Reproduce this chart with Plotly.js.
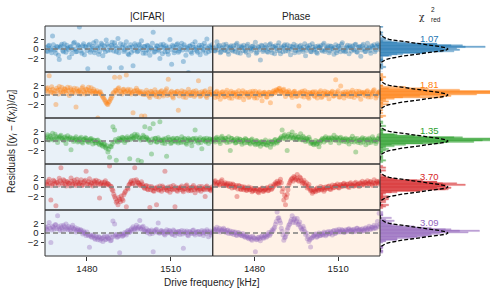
<!DOCTYPE html>
<html><head><meta charset="utf-8">
<script src="https://cdn.plot.ly/plotly-3.0.1.min.js"></script>
<style>html,body{margin:0;padding:0;background:#fff}#chart{width:502px;height:300px}</style>
</head><body><div id="chart"></div>
<script>
const colors = ['#1f77b4','#ff7f0e','#2ca02c','#d62728','#9467bd'];
const chi2Labels = ['1.07','1.81','1.35','3.70','3.09'];
const columnTitles = ['|CIFAR|','Phase'];
const xTickVals = [1480,1510];
const yTickVals = [-2,0,2];
const yTickText = ['−2','0','2'];
const freqStartA = 1465.3, freqStartB = 1465.6, freqStep = 0.6, nPoints = 100;

const cifar1 = [
0.3,-0.5,0.8,-0.2,2.7,0.1,-0.9,0.4,-2.2,0.6,
-0.3,1.1,-0.7,0.2,-1.8,0.5,-0.1,1.4,-0.6,0.9,
4.6,-0.4,0.7,-1.2,0.3,-4.1,1.0,-0.2,0.5,-0.8,
1.6,0.2,-0.5,1.2,-1.4,0.6,1.9,-0.3,-3.9,0.8,
0.4,1.3,-0.6,2.2,0.1,-3.9,0.9,-0.2,1.5,-1.0,
0.3,-0.7,-3.5,1.1,0.2,-0.4,0.8,1.7,-0.9,0.5,
-0.2,0.6,-1.3,0.1,3.5,-0.5,0.7,-0.1,-2.0,0.4,
1.0,-0.6,0.2,-1.1,2.0,-3.2,0.5,-0.3,0.9,-0.7,
0.1,1.2,-2.6,0.4,-0.2,-4.9,0.6,-0.9,0.3,1.5,
-0.4,0.2,-1.2,0.8,-0.1,0.5,2.1,-0.6,0.3,0.9];
const cifar1b = [
-0.4,0.6,0.1,-0.8,0.9,-0.2,0.5,-1.3,0.3,1.0,
-0.6,0.2,0.8,-0.1,0.4,-1.0,1.2,0.0,-0.5,0.7,
0.3,-0.9,1.1,0.5,-0.3,0.8,-0.7,0.2,1.3,-0.2,
0.6,-1.1,0.4,0.9,0.0,-0.6,1.0,0.5,-0.2,1.4,
-0.4,0.7,0.2,-0.8,1.1,0.3,-0.5,0.6,0.1,-1.2,
0.9,0.4,-0.3,0.7,-0.6,1.0,0.2,-0.1,0.5,-0.9,
0.8,-0.3,0.3,1.2,-0.7,0.1,0.6,-0.4,0.9,-1.0,
0.2,0.7,-0.5,0.4,-0.1,0.8,-0.8,0.3,1.1,-0.4,
0.5,-0.2,0.9,-1.3,0.2,0.6,-0.6,1.0,-0.1,0.4,
-0.7,0.8,0.3,-0.4,1.2,-0.9,0.1,0.6,-0.3,0.2];
const phase1 = [
0.2,-0.4,1.5,0.6,-0.8,0.1,0.9,-0.3,0.5,-1.1,
0.4,-0.2,0.7,-0.6,1.2,0.0,-0.9,0.3,0.8,-0.4,
0.6,-1.3,0.2,0.5,-0.1,1.4,-0.7,0.3,-2.3,0.6,
-0.2,0.9,-0.5,0.1,1.1,-0.8,0.4,0.7,-0.3,1.3,
-1.0,0.2,0.6,-0.4,0.9,0.0,-1.2,0.5,1.0,-0.3,
0.3,-0.7,0.8,-0.1,0.4,-1.4,0.6,0.2,-0.5,1.1,
-0.2,0.5,-0.9,0.3,0.7,-0.4,1.2,-0.1,0.4,-0.8,
0.6,0.1,-1.1,0.9,-0.3,0.5,-0.6,1.3,0.2,-0.4,
0.8,-1.0,0.3,0.6,-0.2,1.0,-0.7,0.4,-1.5,0.7,
0.1,-0.5,1.2,0.3,-0.9,0.5,0.9,-0.2,1.1,0.4];
const phase1b = [
-0.3,0.5,-0.1,0.8,-0.6,0.3,-0.2,1.0,-0.5,0.2,
0.7,-0.4,0.1,0.9,-0.8,0.4,0.6,-0.3,0.2,-0.7,
1.0,0.0,-0.4,0.6,0.3,-0.9,0.5,-0.1,0.8,-0.5,
0.2,0.4,-0.7,0.9,-0.2,0.5,-1.0,0.1,0.7,-0.3,
0.4,-0.6,0.9,0.2,-0.4,0.6,-0.1,0.3,-0.8,0.7,
-0.2,0.5,0.1,-0.5,1.1,-0.3,0.2,0.8,-0.6,0.4,
0.0,-0.7,0.6,0.3,-0.2,0.9,-0.5,0.2,0.7,-0.4,
0.5,-0.1,0.3,-0.8,0.6,0.1,1.0,-0.3,-0.6,0.4,
0.2,0.7,-0.4,0.0,0.9,-0.6,0.3,0.5,-0.2,1.0,
-0.5,0.4,0.1,-0.3,0.7,0.2,-0.6,0.5,0.8,-0.1];
const cifar2 = [
0.9,1.5,4.0,0.6,1.2,0.3,-2.0,1.0,1.8,0.7,
0.4,1.3,0.9,1.6,-0.1,1.1,0.5,1.4,-2.5,0.8,
1.0,0.2,1.7,0.6,1.2,0.4,0.9,1.5,0.3,0.8,
0.5,-4.8,0.6,0.2,-0.4,-1.0,-1.6,-2.0,-1.3,-0.6,
0.3,3.7,0.9,1.3,3.7,0.5,1.1,0.7,4.2,1.2,
0.6,0.2,-3.7,0.9,1.4,0.4,0.8,-4.4,0.1,-4.4,
1.0,0.3,-0.5,0.7,0.2,1.1,-0.3,0.6,0.4,0.9,
-0.2,0.5,1.3,3.3,0.1,0.8,-0.6,0.4,0.7,-3.2,
0.3,0.9,-0.4,0.6,0.2,1.2,-0.1,0.5,0.8,0.0,
0.4,3.0,-0.3,0.7,0.2,0.9,-0.5,0.6,1.3,0.1];
const cifar2b = [
1.3,0.6,1.0,1.7,0.4,0.9,1.4,0.2,1.1,1.6,
0.7,1.2,0.3,0.9,1.5,0.6,1.0,0.4,1.3,0.8,
0.5,1.4,0.9,0.2,1.1,1.6,0.6,0.8,1.2,0.4,
0.9,0.3,0.7,-0.1,-0.7,-1.3,-1.9,-1.5,-0.9,-0.2,
0.6,1.0,0.4,1.5,0.8,0.2,1.2,0.6,0.9,0.3,
1.1,0.5,0.8,0.2,1.0,0.6,0.3,0.7,0.4,0.1,
0.5,-0.2,0.8,0.3,0.0,0.6,0.2,-0.4,0.7,0.1,
0.4,0.9,-0.1,0.3,0.6,-0.3,0.5,0.2,0.8,-0.2,
0.4,0.1,0.7,-0.5,0.3,0.6,0.0,0.4,-0.3,0.9,
0.2,0.5,-0.1,0.3,0.7,-0.2,0.4,0.1,0.6,0.3];
const phase2 = [
0.3,-0.5,0.8,0.1,-0.9,0.6,0.2,-0.3,1.0,-0.1,
0.4,-0.7,0.5,0.2,-0.4,0.9,-0.2,0.3,-1.0,0.6,
0.1,-0.5,0.7,0.3,-0.2,0.8,-0.6,0.4,0.0,-1.2,
0.5,0.2,-0.4,0.6,-1.6,0.3,0.9,0.5,1.0,1.3,
0.8,0.4,1.2,-0.3,0.6,0.9,0.1,-0.5,0.7,0.3,
-0.2,-2.3,0.4,0.8,-0.4,0.2,0.6,-0.7,0.3,0.5,
-0.1,0.7,-0.6,0.2,0.9,-0.3,0.4,0.0,0.6,-0.8,
0.3,0.8,-0.2,3.2,0.5,-0.4,1.9,0.1,-0.6,0.7,
0.2,-0.3,0.5,1.0,-0.5,0.3,0.0,0.8,-0.9,0.4,
0.6,-0.2,0.9,0.1,-0.4,0.5,1.1,-0.6,0.3,0.7];
const phase2b = [
0.2,0.6,-0.3,0.4,0.0,0.7,-0.4,0.5,0.1,-0.6,
0.8,0.3,-0.1,0.6,0.2,-0.5,0.4,0.9,-0.2,0.3,
0.5,-0.3,0.2,0.8,-0.6,0.4,0.1,0.7,-0.2,0.3,
0.6,-0.4,0.2,0.5,0.0,0.7,0.4,1.1,0.8,1.4,
0.6,1.0,0.3,0.7,0.2,0.5,-0.1,0.4,0.8,-0.3,
0.3,0.6,-0.2,0.4,0.9,0.1,-0.4,0.5,0.2,0.7,
-0.3,0.4,0.1,0.6,-0.5,0.3,0.8,0.0,0.4,0.2,
0.6,-0.2,0.5,0.1,0.9,-0.4,0.3,0.6,0.2,-0.1,
0.7,0.3,-0.3,0.5,0.1,0.8,-0.2,0.4,0.6,0.0,
0.3,0.7,-0.4,0.5,0.2,0.9,0.1,-0.2,0.6,0.4];
const cifar3 = [
0.6,1.3,0.2,0.9,1.6,0.4,1.0,-0.3,0.8,1.2,
0.3,0.7,-0.5,1.1,0.5,-1.8,0.6,0.2,0.9,-0.2,
0.4,0.8,-0.4,0.3,0.6,-0.1,0.2,0.5,-0.6,0.1,
-0.3,0.2,-0.8,-0.4,-1.1,-0.7,-1.5,-2.3,-3.4,-1.2,
3.0,2.3,-4.0,-0.2,0.4,0.1,0.7,-0.3,0.6,0.2,
-3.7,0.9,0.5,1.4,1.0,-4.0,0.6,-4.3,1.2,3.0,
0.8,0.3,2.6,-2.7,3.6,0.5,-0.2,0.7,4.0,0.1,
0.4,-0.5,-3.2,0.8,0.2,-0.3,0.6,0.0,0.5,-0.4,
0.3,0.9,-0.2,0.4,-0.7,0.6,0.1,-1.0,0.5,2.3,
0.2,-0.4,0.7,-1.6,0.3,0.0,0.6,-0.5,0.4,0.2];
const cifar3b = [
0.9,0.3,1.1,0.5,0.2,1.4,0.7,0.4,1.0,0.6,
0.1,0.9,0.5,0.3,0.8,0.4,-0.1,0.6,0.3,0.0,
0.5,-0.2,0.3,0.7,0.1,-0.3,0.4,0.0,0.2,-0.4,
0.1,-0.5,-0.2,-0.9,-0.6,-1.3,-1.0,-1.7,-1.1,-0.6,
-0.2,0.3,0.0,0.6,0.2,0.8,0.4,0.1,0.9,0.5,
0.3,1.1,0.7,0.4,1.3,0.8,0.2,0.6,0.9,0.3,
0.5,0.1,-0.3,0.4,0.0,0.6,-0.2,0.3,0.1,-0.4,
0.2,0.5,-0.1,0.3,-0.5,0.4,0.1,-0.2,0.6,0.0,
-0.3,0.2,0.5,-0.4,0.1,0.3,-0.2,0.4,-0.1,0.6,
0.0,0.3,-0.3,0.2,0.5,-0.2,0.1,0.4,-0.1,0.3];
const phase3 = [
0.4,-0.2,0.8,0.3,-0.5,1.0,0.2,0.6,-0.3,0.9,
-2.0,0.5,0.1,-0.4,0.6,-0.1,0.3,-0.7,0.2,0.5,
-0.3,0.1,-0.6,0.4,-0.2,-0.8,0.0,-0.5,-1.1,-0.2,
-0.6,0.2,-0.9,-0.3,-1.3,-0.1,-0.7,0.3,-0.4,0.1,
0.6,2.3,1.1,0.4,-2.0,1.4,0.8,1.9,0.5,1.2,
0.3,0.9,1.5,0.2,0.7,-0.1,0.4,0.8,-0.5,-0.2,
-0.8,0.1,-0.5,-1.2,0.0,0.5,-0.2,0.9,0.3,0.7,
-0.3,0.6,1.2,0.1,0.5,-0.4,0.8,0.2,-0.1,0.6,
0.3,-0.6,0.4,1.0,-0.2,-2.3,0.5,0.1,-0.4,0.7,
0.2,-0.8,0.3,0.6,-0.3,0.9,0.0,-0.5,0.4,1.1];
const phase3b = [
0.1,0.6,0.3,-0.1,0.7,0.4,0.0,0.5,0.2,-0.2,
0.6,0.0,0.3,-0.3,0.2,0.4,-0.2,0.1,-0.4,0.3,
0.0,-0.4,0.2,-0.2,-0.5,0.1,-0.7,-0.3,-0.1,-0.6,
-0.2,-0.8,-0.4,0.0,-0.6,-0.3,0.2,-0.2,0.0,0.4,
0.9,0.6,1.3,0.8,1.0,0.5,1.2,0.7,0.9,0.4,
0.8,0.3,0.6,1.0,0.2,0.5,0.0,0.3,-0.3,-0.6,
-0.3,-0.7,-0.1,-0.4,0.2,0.3,0.6,0.1,0.5,0.2,
0.7,0.3,0.4,0.8,0.2,0.6,0.0,0.4,0.3,-0.2,
0.1,0.4,-0.1,0.3,0.5,0.0,-0.3,0.2,0.4,-0.2,
0.5,0.1,-0.4,0.3,0.0,0.4,0.2,-0.1,0.6,0.3];
const cifar4 = [
1.0,0.4,1.6,-2.7,0.7,1.2,-3.9,0.9,1.8,4.0,
0.6,1.3,0.2,1.1,0.8,1.9,0.5,1.4,0.3,1.0,
0.7,1.5,0.4,1.2,3.3,0.6,1.7,0.9,0.2,1.1,
1.4,0.5,-2.3,0.8,0.3,1.0,0.4,0.7,4.4,0.1,
-0.8,-2.0,-3.2,-3.7,-2.6,-1.9,-2.8,-1.2,-4.1,-0.4,
0.6,1.3,0.8,4.0,1.5,0.9,0.4,1.1,0.2,-0.3,
0.3,-0.6,-4.3,0.1,-0.8,-0.2,-3.7,-0.5,0.2,-0.9,
-0.1,3.3,-0.6,0.0,-1.1,-0.4,0.3,-4.1,-0.7,-0.2,
-0.5,0.2,-1.0,-0.3,0.4,-0.8,-0.1,-0.6,0.3,-1.2,
-0.2,-0.7,-0.4,0.1,-0.4,-2.0,0.2,-0.3,-0.6,0.0];
const cifar4b = [
0.6,1.2,0.8,0.3,1.4,0.7,1.0,0.4,1.3,0.9,
1.5,0.5,1.1,0.8,0.2,1.2,0.9,0.6,1.6,0.7,
1.0,0.3,0.9,1.4,0.6,1.1,0.4,0.8,1.3,0.5,
0.9,1.2,0.6,1.0,0.4,1.3,0.8,0.5,0.2,-0.5,
-1.5,-2.4,-2.9,-2.2,-3.1,-2.5,-1.6,-0.9,-0.2,0.4,
1.0,0.7,1.4,0.5,1.1,0.8,0.3,0.6,-0.1,0.2,
-0.4,0.1,-0.6,-0.2,-0.9,-0.3,0.0,-0.7,-0.4,0.2,
-0.5,-0.2,-0.8,-0.3,0.1,-0.6,-0.4,0.0,-0.9,-0.2,
-0.1,-0.7,-0.4,0.2,-0.5,-0.3,-0.8,0.0,-0.6,-0.2,
-0.4,0.1,-0.9,-0.3,-0.6,0.0,-0.5,-0.2,-0.8,-0.4];
const phase4 = [
0.8,1.3,0.4,1.0,0.6,1.5,0.3,0.9,0.5,0.2,
0.7,-0.2,0.4,0.0,-2.0,0.3,-0.4,0.1,-0.6,-0.2,
-0.7,0.0,-0.5,-1.0,-0.3,-0.8,-0.4,-1.2,-0.6,-0.2,
-0.9,-0.5,-0.1,-0.7,0.2,-0.3,0.5,0.9,1.2,0.6,
1.6,-1.0,-2.7,-3.7,-1.5,0.4,1.3,1.8,2.2,1.5,
2.6,1.2,1.9,0.8,1.4,0.3,-0.2,0.5,-0.8,-1.3,
-0.5,-1.0,-0.2,-0.7,0.1,-0.4,-0.9,0.0,-0.3,0.2,
-0.5,0.4,-0.1,0.3,0.6,-0.2,0.5,0.1,0.8,0.2,
0.6,-0.1,0.9,0.4,0.2,1.0,0.5,0.1,0.8,1.2,
0.4,0.9,1.3,0.6,1.1,0.3,1.5,0.8,1.0,1.2];
const phase4b = [
1.1,0.5,0.9,0.4,1.2,0.7,0.6,0.3,0.8,0.1,
0.4,0.6,-0.1,0.3,-0.4,0.2,-0.5,-0.2,0.0,-0.7,
-0.3,-0.6,-0.2,-0.8,-0.5,-0.3,-1.0,-0.7,-0.4,-0.9,
-0.6,-0.3,-0.8,-0.2,-0.5,0.0,0.3,0.6,0.8,1.1,
0.9,-0.3,-1.8,-2.2,-0.6,0.9,1.6,1.2,2.0,1.7,
1.4,2.1,1.3,1.0,0.6,0.9,0.1,-0.4,-0.6,-1.0,
-0.8,-0.4,-0.7,-0.3,-0.6,-0.1,-0.5,-0.2,0.1,-0.4,
0.0,-0.2,0.3,0.1,-0.1,0.4,0.2,0.6,0.3,0.5,
0.1,0.7,0.4,0.2,0.8,0.3,0.6,0.9,0.4,0.7,
1.0,0.5,0.8,1.1,0.6,0.9,0.7,1.2,0.6,0.9];
const cifar5 = [
1.2,0.5,2.2,-2.0,1.4,0.8,1.7,3.6,0.9,1.5,
0.6,1.3,1.9,0.7,1.1,0.4,1.6,0.8,0.2,0.9,
0.3,0.6,-0.2,0.1,-0.5,-0.3,-3.0,-0.8,-0.4,-1.1,
-0.7,-1.4,-0.9,-1.2,-1.8,-0.6,-1.3,-1.0,-0.5,-1.5,
2.5,1.9,-0.3,-0.8,-4.1,-0.2,-0.6,0.1,-0.4,0.5,
0.2,0.9,1.3,0.7,1.6,1.1,2.6,0.8,1.4,0.3,
0.9,0.4,-0.2,0.6,-3.9,0.2,0.8,2.1,0.0,0.5,
0.3,-0.4,0.7,0.1,0.4,-0.2,0.6,-0.5,0.2,0.3,
-0.3,0.5,-3.2,0.0,0.4,-0.6,0.2,-0.1,0.6,-0.4,
0.1,0.3,-0.2,0.5,-0.5,0.2,0.7,-0.8,0.4,0.0];
const cifar5b = [
0.8,1.4,1.0,0.6,1.2,1.7,0.9,1.3,0.5,1.1,
1.6,0.8,1.0,1.4,0.7,1.2,0.9,1.1,0.5,0.6,
0.7,0.2,0.4,-0.1,0.2,-0.6,-0.4,-0.9,-0.6,-1.3,
-1.0,-0.8,-1.5,-1.1,-0.9,-1.4,-0.8,-1.2,-1.6,-0.9,
-0.7,-0.4,-0.9,-0.5,-0.2,-0.7,-0.3,-0.1,0.3,0.1,
0.6,0.4,0.9,1.1,0.8,1.3,0.9,1.2,0.6,0.4,
0.1,0.5,0.3,-0.1,0.4,0.6,0.2,0.0,0.4,0.1,
-0.2,0.3,0.0,0.5,0.2,-0.3,0.4,0.1,-0.1,0.3,
0.2,-0.2,0.4,0.1,-0.4,0.3,0.0,0.5,-0.1,0.2,
0.3,-0.3,0.2,0.0,0.4,-0.1,0.3,0.1,-0.4,0.2];
const phase5 = [
0.9,0.4,1.2,0.6,0.2,0.8,1.0,0.3,0.5,-0.1,
0.4,0.0,-0.3,0.2,-0.5,0.1,-0.2,-0.6,-0.4,-0.9,
-0.7,-1.2,-0.8,-1.5,-1.0,-3.9,-1.3,-0.9,-1.6,-0.6,
-1.1,-0.4,-0.7,0.1,-0.2,0.6,0.9,1.8,4.4,3.2,
2.1,0.3,-1.5,-0.8,0.7,1.6,2.4,3.6,2.8,2.2,
3.0,1.9,1.2,0.6,0.9,-0.3,-1.2,-1.8,-2.9,-1.0,
-0.6,-0.2,-0.8,0.0,-0.5,-0.3,0.2,-0.6,0.1,-0.2,
0.3,-0.4,0.5,0.0,0.4,0.8,0.2,0.6,0.1,0.7,
0.3,0.9,0.5,0.2,0.8,0.4,1.0,0.6,0.3,0.9,
0.5,1.1,0.7,1.4,0.8,1.2,1.6,1.0,2.4,4.1];
const phase5b = [
0.6,0.8,0.3,1.0,0.5,0.4,0.7,0.1,0.6,0.2,
-0.1,0.3,0.1,-0.4,0.0,-0.3,-0.5,-0.1,-0.8,-0.5,
-1.0,-0.9,-1.3,-0.7,-1.1,-1.4,-1.0,-1.2,-0.8,-1.0,
-0.7,-0.9,-0.3,-0.5,0.2,0.4,1.2,2.4,3.1,2.6,
1.0,-0.4,-1.0,-0.2,1.1,1.9,2.8,2.2,3.1,2.5,
1.7,2.3,0.9,1.4,0.3,0.0,-0.8,-1.4,-1.1,-0.7,
-0.3,-0.9,-0.4,-0.6,-0.1,-0.4,0.0,-0.3,0.3,-0.1,
0.1,0.4,-0.1,0.6,0.2,0.3,0.7,0.4,0.2,0.5,
0.8,0.4,0.7,0.6,0.3,1.0,0.5,0.8,0.7,0.4,
0.9,0.6,1.0,0.8,1.2,0.9,1.1,1.5,1.3,1.8];

const gaussZ = [-4,-3.75,-3.5,-3.25,-3,-2.75,-2.5,-2.25,-2,-1.75,-1.5,-1.25,-1,-0.75,-0.5,-0.25,0,
0.25,0.5,0.75,1,1.25,1.5,1.75,2,2.25,2.5,2.75,3,3.25,3.5,3.75,4];
const gaussPdf = [0.0001,0.0004,0.0009,0.0020,0.0044,0.0091,0.0175,0.0317,0.0540,0.0863,0.1295,0.1826,0.2420,0.3011,0.3521,0.3867,0.3989,
0.3867,0.3521,0.3011,0.2420,0.1826,0.1295,0.0863,0.0540,0.0317,0.0175,0.0091,0.0044,0.0020,0.0009,0.0004,0.0001];

const cifarRows = [cifar1.concat(cifar1b), cifar2.concat(cifar2b), cifar3.concat(cifar3b), cifar4.concat(cifar4b), cifar5.concat(cifar5b)];
const phaseRows = [phase1.concat(phase1b), phase2.concat(phase2b), phase3.concat(phase3b), phase4.concat(phase4b), phase5.concat(phase5b)];
const freqA = Array.from({length:nPoints},(_,i)=>+(freqStartA+i*freqStep).toFixed(2));
const freqB = Array.from({length:nPoints},(_,i)=>+(freqStartB+i*freqStep).toFixed(2));
const freq = freqA.concat(freqB);

const c1 = 0.3769, c2 = 0.7528;
const FONT = 'Liberation Sans, Arial, sans-serif';
const traces = [];
const shapes = [];
const annotations = [];
const axBase = {ticks:'outside', ticklen:3.5, tickwidth:1, tickcolor:'#333', showgrid:false, zeroline:false, showline:false, tickfont:{size:9.5,color:'#222'}};
const layout = {
  width:502, height:300,
  margin:{l:45,r:12,t:26,b:44},
  paper_bgcolor:'#ffffff', plot_bgcolor:'rgba(0,0,0,0)',
  showlegend:false, barmode:'overlay', bargap:0,
  font:{family:FONT, size:10, color:'#222'},
  xaxis:Object.assign({domain:[0,c1], range:[1465,1525], anchor:'y5', tickvals:xTickVals}, axBase),
  xaxis2:Object.assign({domain:[c1,c2], range:[1465,1525], anchor:'y5', tickvals:xTickVals}, axBase),
  xaxis3:{domain:[c2,1], range:[0,0.645], anchor:'y5', visible:false}
};

for (let r=0;r<5;r++){
  const yn = r===0 ? 'y' : 'y'+(r+1);
  const yk = r===0 ? 'yaxis' : 'yaxis'+(r+1);
  const top = 1 - r*0.2, bot = 1 - (r+1)*0.2;
  layout[yk] = Object.assign({domain:[bot,top], range:[-4.8,4.8], anchor:'x', tickvals:yTickVals, ticktext:yTickText}, axBase);
  const col = colors[r];
  traces.push({type:'scatter', mode:'markers', x:freq, y:cifarRows[r], xaxis:'x', yaxis:yn,
    marker:{color:col, size:5, opacity:0.36, line:{width:0}}, cliponaxis:true});
  traces.push({type:'scatter', mode:'markers', x:freq, y:phaseRows[r], xaxis:'x2', yaxis:yn,
    marker:{color:col, size:5, opacity:0.36, line:{width:0}}, cliponaxis:true});
  [cifarRows[r], phaseRows[r]].forEach(arr=>{
    traces.push({type:'histogram', orientation:'h', y:arr, xaxis:'x3', yaxis:yn,
      histnorm:'probability density', ybins:{start:-5.1,end:5.1,size:0.3},
      marker:{color:col, line:{color:col, width:0.4}}, opacity:0.62});
  });
  traces.push({type:'scatter', mode:'lines', x:gaussPdf, y:gaussZ, xaxis:'x3', yaxis:yn,
    line:{color:'#000', width:1.3, dash:'4px,2px'}});
  shapes.push({type:'line', xref:'paper', yref:yn, x0:0, x1:c2, y0:0, y1:0,
    line:{color:'#7f7f7f', width:1.6, dash:'5px,3px'}, layer:'above'});
  shapes.push({type:'rect', xref:'paper', yref:'paper', x0:0, x1:c1, y0:bot, y1:top,
    line:{color:'#333', width:1}, fillcolor:'rgba(0,0,0,0)', layer:'above'});
  shapes.push({type:'rect', xref:'paper', yref:'paper', x0:c1, x1:c2, y0:bot, y1:top,
    line:{color:'#333', width:1}, fillcolor:'rgba(0,0,0,0)', layer:'above'});
  annotations.push({xref:'x3', yref:yn, x:0.293, y:2.1, text:chi2Labels[r], showarrow:false,
    font:{family:FONT, size:9.5, color:col}, xanchor:'center', yanchor:'middle'});
}
shapes.unshift({type:'rect', xref:'paper', yref:'paper', x0:c1, x1:c2, y0:0, y1:1, fillcolor:'#fff2e7', line:{width:0}, layer:'below'});
shapes.unshift({type:'rect', xref:'paper', yref:'paper', x0:0, x1:c1, y0:0, y1:1, fillcolor:'#e9f1f8', line:{width:0}, layer:'below'});

annotations.push({xref:'paper', yref:'paper', x:0.1876, y:1.043, text:columnTitles[0], showarrow:false, font:{family:FONT,size:10,color:'#222'}, yanchor:'middle'});
annotations.push({xref:'paper', yref:'paper', x:0.5656, y:1.043, text:columnTitles[1], showarrow:false, font:{family:FONT,size:10,color:'#222'}, yanchor:'middle'});
annotations.push({xref:'paper', yref:'paper', x:0.858, y:1.040, text:'χ', showarrow:false, font:{family:'DejaVu Serif, serif',size:9,color:'#222'}, yanchor:'middle'});
annotations.push({xref:'paper', yref:'paper', x:0.864, y:1.070, text:'2', showarrow:false, font:{family:FONT,size:6.5,color:'#222'}, xanchor:'left', yanchor:'middle'});
annotations.push({xref:'paper', yref:'paper', x:0.863, y:1.030, text:'red', showarrow:false, font:{family:FONT,size:6.5,color:'#222'}, xanchor:'left', yanchor:'middle'});
annotations.push({xref:'paper', yref:'paper', x:-0.0742, y:0.5, textangle:-90, text:'Residuals [(<i>y<sub>i</sub></i> − <i>f</i>(<i>x<sub>i</sub></i>))/<i>σ<sub>i</sub></i>]', showarrow:false, font:{family:FONT,size:10,color:'#222'}, xanchor:'center', yanchor:'middle'});
annotations.push({xref:'paper', yref:'paper', x:0.3764, y:-0.117, text:'Drive frequency [kHz]', showarrow:false, font:{family:FONT,size:10,color:'#222'}, xanchor:'center', yanchor:'middle'});

layout.shapes = shapes;
layout.annotations = annotations;
Plotly.newPlot('chart', traces, layout, {staticPlot:true, displayModeBar:false});
</script>
</body></html>
